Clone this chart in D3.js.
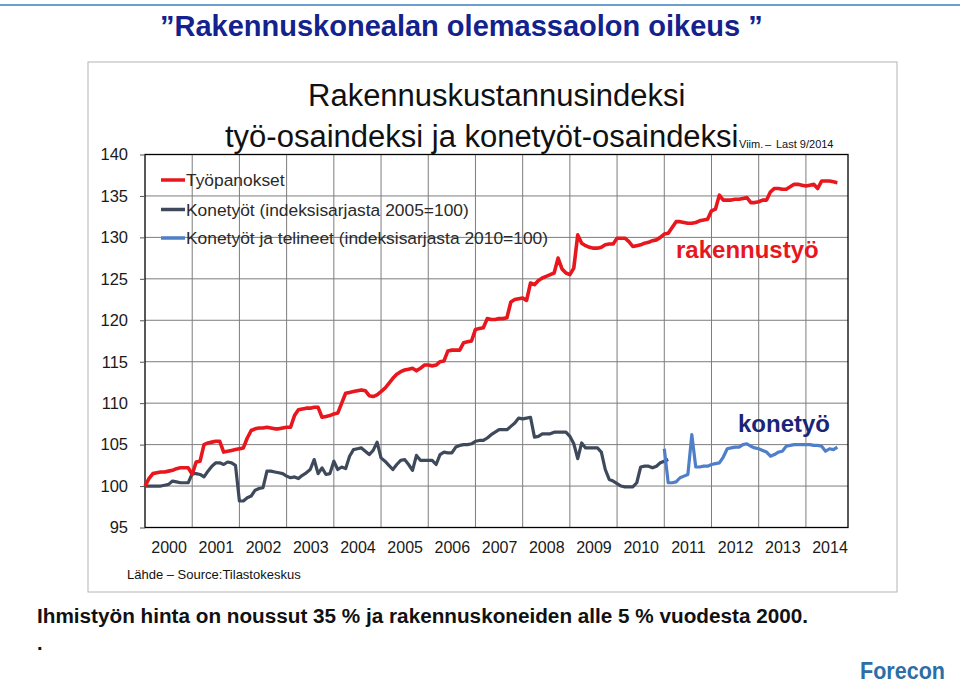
<!DOCTYPE html>
<html>
<head>
<meta charset="utf-8">
<script src="https://cdn.jsdelivr.net/npm/d3@7"></script>
<style>
  html, body { margin: 0; padding: 0; background: #fff; }
  svg { display: block; font-family: "Liberation Sans", Arial, sans-serif; }
</style>
</head>
<body>
<svg id="chart" width="960" height="684"></svg>
<script>
// ---- Data (monthly, Jan 2000 = month 0) ----
const years = [2000,2001,2002,2003,2004,2005,2006,2007,2008,2009,2010,2011,2012,2013,2014];
const yTicks = [95,100,105,110,115,120,125,130,135,140];

// Työpanokset (red), Jan 2000 – Sep 2014
const tyopanokset = [
  100.0,100.9,101.5,101.6,101.7,101.7,101.8,101.9,102.1,102.2,102.2,102.2,
  101.4,102.9,103.0,105.0,105.2,105.3,105.4,105.4,104.1,104.2,104.3,104.4,
  104.5,104.6,105.8,106.7,106.9,107.0,107.0,107.1,107.0,106.9,106.9,107.0,
  107.1,107.1,108.5,109.2,109.3,109.4,109.4,109.5,109.5,108.3,108.4,108.5,
  108.7,108.8,110.0,111.2,111.3,111.4,111.5,111.6,111.5,110.9,110.8,111.0,
  111.4,111.8,112.4,113.0,113.5,113.8,114.0,114.1,114.2,113.9,114.2,114.6,
  114.6,114.5,114.6,115.0,115.1,116.3,116.4,116.4,116.4,117.3,117.4,117.5,
  118.9,119.0,119.1,120.2,120.1,120.1,120.2,120.2,120.3,122.2,122.5,122.6,
  122.7,122.4,124.5,124.3,124.8,125.1,125.3,125.5,125.7,127.5,126.2,125.7,
  125.5,126.3,130.3,129.3,129.0,128.8,128.7,128.7,128.8,129.1,129.2,129.2,
  129.9,129.9,129.9,129.5,128.9,129.0,129.1,129.3,129.4,129.6,129.7,130.0,
  130.4,130.5,131.2,131.9,131.9,131.8,131.7,131.7,131.8,132.0,132.1,132.2,
  133.2,133.4,135.1,134.5,134.5,134.5,134.6,134.6,134.7,134.8,134.2,134.2,
  134.3,134.5,134.5,135.5,135.9,135.9,135.8,135.8,136.1,136.4,136.4,136.3,
  136.2,136.3,136.4,135.9,136.8,136.8,136.8,136.7,136.6
];

// Konetyöt (indeksisarjasta 2005=100), Jan 2000 – Feb 2011
const konetyot2005 = [
  100.0,100.0,100.0,100.0,100.0,100.1,100.2,100.6,100.5,100.4,100.4,100.4,
  101.5,101.5,101.4,101.1,101.8,102.4,102.8,102.8,102.6,102.9,102.8,102.5,
  98.2,98.2,98.6,98.8,99.5,99.7,99.8,101.8,101.8,101.7,101.6,101.5,
  101.2,101.0,101.1,100.9,101.3,101.6,102.0,103.2,101.5,102.2,101.4,101.5,
  103.0,102.0,102.3,102.1,103.6,104.4,104.5,104.6,104.2,103.8,104.3,105.3,
  103.4,103.0,102.5,102.0,102.6,103.1,103.2,102.6,101.9,103.7,103.1,103.1,
  103.1,103.1,102.6,103.8,104.1,104.0,104.0,104.7,104.9,105.0,105.0,105.1,
  105.4,105.5,105.5,105.8,106.2,106.5,106.8,106.8,106.8,107.2,107.6,108.2,
  108.1,108.2,108.3,105.9,106.0,106.3,106.3,106.3,106.5,106.5,106.5,106.5,
  106.0,105.1,103.3,105.2,104.6,104.6,104.6,104.6,104.1,102.0,100.8,100.6,
  100.3,100.0,99.9,99.9,99.9,100.4,102.3,102.4,102.4,102.2,102.4,102.8,
  103.0,103.2
];

// Konetyöt ja telineet (indeksisarjasta 2010=100), Jan 2011 – Sep 2014
const telineetStart = 132;
const konetyotTelineet2010 = [
  104.5,100.4,100.4,100.5,101.0,101.2,101.4,106.2,102.3,102.3,102.4,102.4,
  102.6,102.7,102.8,103.5,104.5,104.6,104.7,104.7,105.0,105.1,104.8,104.6,
  104.5,104.3,104.1,103.6,103.8,104.1,104.2,104.8,104.9,105.0,105.0,105.0,
  105.0,105.0,104.9,104.9,104.8,104.2,104.5,104.4,104.7
];

const seriesNames = ["Työpanokset", "Konetyöt (indeksisarjasta 2005=100)", "Konetyöt ja telineet (indeksisarjasta 2010=100)"];
const seriesColors = ["#e8161d", "#3e4a5c", "#4f7fc9"];

// ---- Layout ----
const svg = d3.select("#chart");
const W = 960, H = 684;
const plot = { left: 145, right: 848, top: 154.5, bottom: 527.5 };

svg.append("rect").attr("width", W).attr("height", H).attr("fill", "#fff");
svg.append("line").attr("x1", 0).attr("x2", W).attr("y1", 5).attr("y2", 5)
  .attr("stroke", "#3a7fc1").attr("stroke-width", 1.5);

// outer frame
svg.append("rect").attr("x", 88).attr("y", 62).attr("width", 809).attr("height", 530)
  .attr("fill", "none").attr("stroke", "#b4b4b4").attr("stroke-width", 1);

const x = d3.scaleLinear().domain([0, 178.7]).range([plot.left, plot.right]);
const y = d3.scaleLinear().domain([95, 140]).range([plot.bottom, plot.top]);

// gridlines
const g = svg.append("g");
g.selectAll(".hg").data(yTicks.filter(v => v > 95 && v < 140)).join("line")
  .attr("x1", plot.left).attr("x2", plot.right)
  .attr("y1", d => y(d)).attr("y2", d => y(d))
  .attr("stroke", "#7d7d7d").attr("stroke-width", 1);
g.selectAll(".vg").data(years.slice(1)).join("line")
  .attr("x1", d => x((d - 2000) * 12)).attr("x2", d => x((d - 2000) * 12))
  .attr("y1", plot.top).attr("y2", plot.bottom)
  .attr("stroke", "#7d7d7d").attr("stroke-width", 1);

// frame of plot
svg.append("rect").attr("x", plot.left).attr("y", plot.top)
  .attr("width", plot.right - plot.left).attr("height", plot.bottom - plot.top)
  .attr("fill", "none").attr("stroke", "#000").attr("stroke-width", 1.3);

// y axis
const yAxis = d3.axisLeft(y).tickValues(yTicks).tickSize(5).tickPadding(12).tickFormat(d3.format("d"));
const ya = svg.append("g").attr("transform", `translate(${plot.left},0)`).call(yAxis);
ya.select(".domain").remove();
ya.selectAll("line").attr("stroke", "#555");
ya.selectAll("text").attr("font-size", "16.5px").attr("fill", "#1a1a1a")
  .attr("font-family", "Liberation Sans, Arial, sans-serif");

// x labels (mid-year)
const xAxis = d3.axisBottom(x).tickValues(years.map(d => (d - 2000) * 12 + 6))
  .tickSize(0).tickPadding(14).tickFormat((d) => String(2000 + Math.floor(d / 12)));
const xa = svg.append("g").attr("transform", `translate(0,${plot.bottom})`).call(xAxis);
xa.select(".domain").remove();
xa.selectAll("text").attr("font-size", "16px").attr("fill", "#1a1a1a")
  .attr("font-family", "Liberation Sans, Arial, sans-serif");

// lines
const line = d3.line().x(d => x(d.m)).y(d => y(d.v));
const redData = tyopanokset.map((v, i) => ({ m: i, v }));
const darkData = konetyot2005.map((v, i) => ({ m: i, v }));
const blueData = konetyotTelineet2010.map((v, i) => ({ m: telineetStart + i, v }));

[[darkData, seriesColors[1], 3.2], [blueData, seriesColors[2], 3.2], [redData, seriesColors[0], 3.6]]
  .forEach(([data, color, w]) => {
    svg.append("path").datum(data).attr("d", line)
      .attr("fill", "none").attr("stroke", color).attr("stroke-width", w)
      .attr("stroke-linejoin", "round").attr("stroke-linecap", "butt");
  });

// legend
const legY = [180, 209.5, 238];
seriesNames.forEach((name, i) => {
  svg.append("line").attr("x1", 161).attr("x2", 185).attr("y1", legY[i]).attr("y2", legY[i])
    .attr("stroke", seriesColors[i]).attr("stroke-width", 3.5);
  svg.append("text").attr("x", 186).attr("y", legY[i] + 6.3).text(name)
    .attr("font-size", "17.4px").attr("fill", "#2a2a2a");
});

// titles
svg.append("text").attr("x", 160).attr("y", 36).text("”Rakennuskonealan olemassaolon oikeus ”")
  .attr("font-size", "29px").attr("font-weight", "bold").attr("fill", "#13228c");

svg.append("text").attr("x", 308).attr("y", 106).text("Rakennuskustannusindeksi")
  .attr("font-size", "31px").attr("fill", "#111");
svg.append("text").attr("x", 225).attr("y", 147).text("työ-osaindeksi ja konetyöt-osaindeksi")
  .attr("font-size", "31px").attr("fill", "#111");

svg.append("text").attr("x", 739).attr("y", 148).text("Viim.")
  .attr("font-size", "11px").attr("fill", "#111");
svg.append("text").attr("x", 765).attr("y", 148).text("–")
  .attr("font-size", "11px").attr("fill", "#111");
svg.append("text").attr("x", 776).attr("y", 148).text("Last 9/2014")
  .attr("font-size", "11px").attr("fill", "#111");

// annotations
svg.append("text").attr("x", 676).attr("y", 258).text("rakennustyö")
  .attr("font-size", "24px").attr("font-weight", "bold").attr("fill", "#e8161d");
svg.append("text").attr("x", 738).attr("y", 432).text("konetyö")
  .attr("font-size", "24px").attr("font-weight", "bold").attr("fill", "#1a2478");

// source
svg.append("text").attr("x", 127).attr("y", 579).text("Lähde – Source:Tilastokeskus")
  .attr("font-size", "13px").attr("fill", "#111");

// bottom text
svg.append("text").attr("x", 37).attr("y", 623)
  .text("Ihmistyön hinta on noussut 35 % ja rakennuskoneiden alle 5 % vuodesta 2000.")
  .attr("font-size", "20px").attr("font-weight", "bold").attr("fill", "#111")
  .attr("textLength", 771).attr("lengthAdjust", "spacingAndGlyphs");
svg.append("text").attr("x", 37).attr("y", 650).text(".")
  .attr("font-size", "20px").attr("font-weight", "bold").attr("fill", "#111");

// logo
svg.append("text").attr("x", 860).attr("y", 679).text("Forecon")
  .attr("font-size", "24px").attr("font-weight", "bold").attr("fill", "#2b6ea8")
  .attr("textLength", 85).attr("lengthAdjust", "spacingAndGlyphs");
</script>
</body>
</html>
